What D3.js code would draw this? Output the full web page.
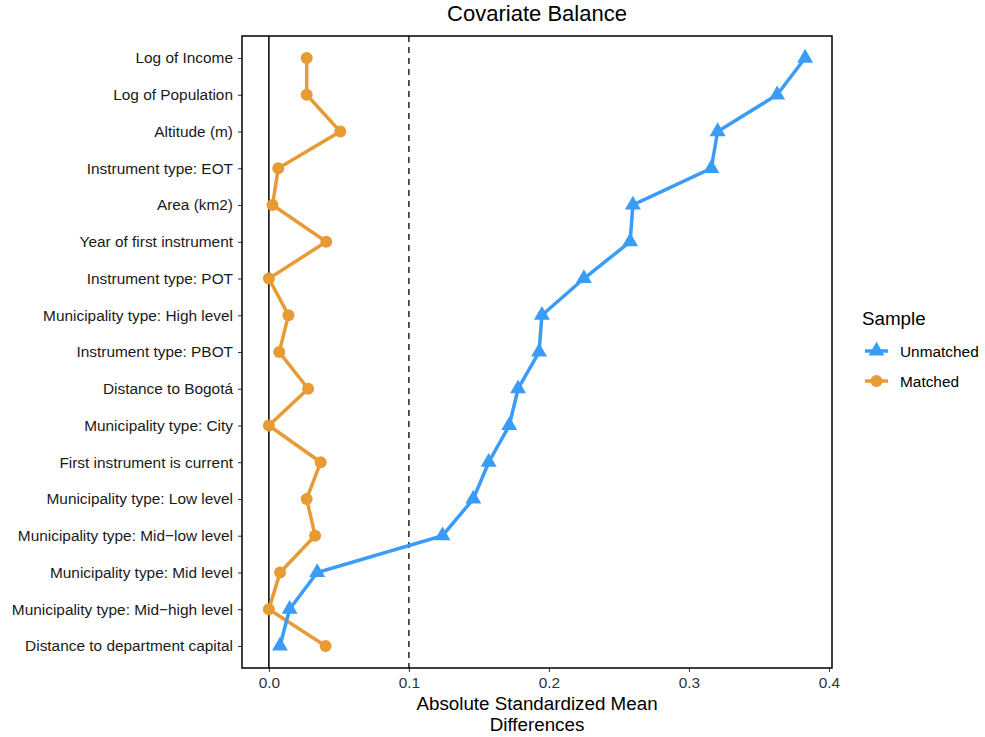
<!DOCTYPE html>
<html>
<head>
<meta charset="utf-8">
<script src="https://cdn.jsdelivr.net/npm/d3@7"></script>
<style>
  body { margin: 0; background: #fff; }
  text { font-family: "Liberation Sans", Arial, sans-serif; }
</style>
</head>
<body>
<div id="chart"></div>
<script>
// covariates, top to bottom
const covariates = [
  "Log of Income", "Log of Population", "Altitude (m)", "Instrument type: EOT",
  "Area (km2)", "Year of first instrument", "Instrument type: POT",
  "Municipality type: High level", "Instrument type: PBOT", "Distance to Bogotá",
  "Municipality type: City", "First instrument is current", "Municipality type: Low level",
  "Municipality type: Mid\u2212low level", "Municipality type: Mid level",
  "Municipality type: Mid\u2212high level", "Distance to department capital"
];

const unmatched = [0.383, 0.363, 0.3205, 0.316, 0.260, 0.258, 0.225, 0.195, 0.193,
  0.178, 0.1717, 0.157, 0.146, 0.124, 0.0345, 0.0148, 0.0079];
const matched = [0.027, 0.027, 0.051, 0.0067, 0.0026, 0.041, 0.0, 0.014, 0.0074,
  0.028, 0.0, 0.037, 0.027, 0.033, 0.008, 0.0, 0.0405];

const xTicks = [0, 0.1, 0.2, 0.3, 0.4];
const threshold = 0.1;

const width = 985, height = 737;
const margin = { top: 36, right: 153, bottom: 69, left: 242 };

const svg = d3.select("#chart").append("svg")
  .attr("width", width)
  .attr("height", height);

const x = d3.scaleLinear()
  .domain([-0.0192, 0.4022])
  .range([margin.left, width - margin.right]);

const y = d3.scalePoint()
  .domain(covariates)
  .range([margin.top, height - margin.bottom])
  .padding(0.6);

const blue = "#3a9cf7";
const orange = "#e79b35";

// axes
const xAxis = svg.append("g")
  .attr("transform", `translate(0,${height - margin.bottom})`)
  .call(d3.axisBottom(x).tickValues(xTicks).tickFormat(d3.format(".1f")).tickSize(4).tickPadding(5));
xAxis.select(".domain").remove();
xAxis.selectAll("line").attr("stroke", "#333");
xAxis.selectAll("text").attr("font-size", 15.4).attr("fill", "#333").attr("font-family", "Liberation Sans, Arial, sans-serif");

const yAxis = svg.append("g")
  .attr("transform", `translate(${margin.left},0)`)
  .call(d3.axisLeft(y).tickSize(4).tickPadding(5));
yAxis.select(".domain").remove();
yAxis.selectAll("line").attr("stroke", "#333");
yAxis.selectAll("text").attr("font-size", 15.4).attr("fill", "#1a1a1a").attr("font-family", "Liberation Sans, Arial, sans-serif");

// reference lines
svg.append("line")
  .attr("x1", x(0)).attr("x2", x(0))
  .attr("y1", margin.top).attr("y2", height - margin.bottom)
  .attr("stroke", "black").attr("stroke-width", 1.5);

svg.append("line")
  .attr("x1", x(threshold)).attr("x2", x(threshold))
  .attr("y1", margin.top).attr("y2", height - margin.bottom)
  .attr("stroke", "#222").attr("stroke-width", 1.5)
  .attr("stroke-dasharray", "6,5");

const line = d3.line()
  .x(d => x(d[1]))
  .y(d => y(d[0]));

const mData = covariates.map((c, i) => [c, matched[i]]);
const uData = covariates.map((c, i) => [c, unmatched[i]]);

svg.append("path")
  .datum(mData)
  .attr("fill", "none")
  .attr("stroke", orange)
  .attr("stroke-width", 3.5)
  .attr("d", line);

svg.selectAll(".mpt")
  .data(mData)
  .enter().append("circle")
  .attr("cx", d => x(d[1]))
  .attr("cy", d => y(d[0]))
  .attr("r", 6)
  .attr("fill", orange);

svg.append("path")
  .datum(uData)
  .attr("fill", "none")
  .attr("stroke", blue)
  .attr("stroke-width", 3.5)
  .attr("d", line);

const tri = d3.symbol().type(d3.symbolTriangle).size(110);
svg.selectAll(".upt")
  .data(uData)
  .enter().append("path")
  .attr("transform", d => `translate(${x(d[1])},${y(d[0])})`)
  .attr("d", tri)
  .attr("fill", blue);

// panel border
svg.append("rect")
  .attr("x", margin.left).attr("y", margin.top)
  .attr("width", width - margin.left - margin.right)
  .attr("height", height - margin.top - margin.bottom)
  .attr("fill", "none")
  .attr("stroke", "black")
  .attr("stroke-width", 1.5);

// title
const cx = (margin.left + width - margin.right) / 2;
svg.append("text")
  .attr("x", cx).attr("y", 21)
  .attr("text-anchor", "middle")
  .attr("font-size", 22)
  .text("Covariate Balance");

svg.append("text")
  .attr("x", cx).attr("y", 710)
  .attr("text-anchor", "middle")
  .attr("font-size", 18.8)
  .text("Absolute Standardized Mean");
svg.append("text")
  .attr("x", cx).attr("y", 731)
  .attr("text-anchor", "middle")
  .attr("font-size", 18.8)
  .text("Differences");

// legend
const legend = svg.append("g").attr("transform", "translate(862,0)");
legend.append("text")
  .attr("x", 0).attr("y", 325)
  .attr("font-size", 18.8)
  .text("Sample");

const keys = [
  { name: "Unmatched", color: blue, shape: "tri", y: 351 },
  { name: "Matched", color: orange, shape: "circle", y: 381 }
];
keys.forEach(k => {
  legend.append("line")
    .attr("x1", 3).attr("x2", 26)
    .attr("y1", k.y).attr("y2", k.y)
    .attr("stroke", k.color).attr("stroke-width", 3.5);
  if (k.shape === "tri") {
    legend.append("path")
      .attr("transform", `translate(14.5,${k.y})`)
      .attr("d", tri)
      .attr("fill", k.color);
  } else {
    legend.append("circle")
      .attr("cx", 14.5).attr("cy", k.y).attr("r", 6)
      .attr("fill", k.color);
  }
  legend.append("text")
    .attr("x", 38).attr("y", k.y + 5.5)
    .attr("font-size", 15.4)
    .text(k.name);
});
</script>
</body>
</html>
